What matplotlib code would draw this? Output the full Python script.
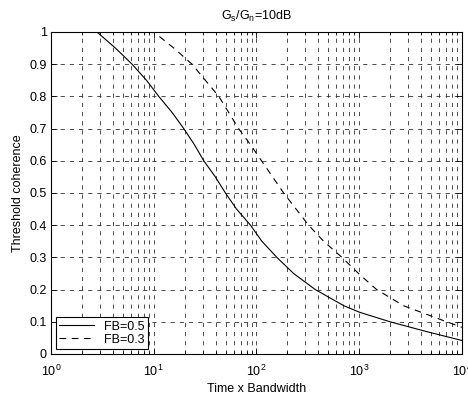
import matplotlib
matplotlib.use("Agg")
import matplotlib.pyplot as plt
from matplotlib.ticker import LogLocator, NullFormatter

plt.rcParams['font.family'] = ['Liberation Sans', 'DejaVu Sans']
plt.rcParams['mathtext.fontset'] = 'custom'
plt.rcParams['mathtext.rm'] = 'Liberation Sans'
plt.rcParams['mathtext.it'] = 'Liberation Sans'
plt.rcParams['mathtext.default'] = 'regular'

# Data
tb_fb05 = [1.0, 2.8, 4.24, 6.15, 8.5, 11.2, 15.1, 19.6, 24.9, 30.7, 39.8, 49.9, 64,
           87.5, 113, 158, 230, 374, 708, 1000, 2000, 4470, 10000]
coh_fb05 = [1.0, 1.0, 0.95, 0.9, 0.85, 0.8, 0.75, 0.7, 0.65, 0.6, 0.55, 0.5, 0.45,
            0.4, 0.35, 0.3, 0.25, 0.2, 0.15, 0.13, 0.1, 0.07, 0.042]

tb_fb03 = [1.0, 10.0, 15.7, 23.6, 31.8, 43, 53.7, 67, 87.5, 112, 184, 322, 451,
           680, 986, 1480, 2700, 7100, 10000]
coh_fb03 = [1.0, 1.0, 0.95, 0.9, 0.85, 0.8, 0.75, 0.7, 0.65, 0.6, 0.5, 0.4, 0.35,
            0.3, 0.25, 0.2, 0.15, 0.1, 0.083]

labels = ['FB=0.5', 'FB=0.3']
title = r'G$_s$/G$_n$=10dB'
xlabel = 'Time x Bandwidth'
ylabel = 'Threshold coherence'
yticks = [0, 0.1, 0.2, 0.3, 0.4, 0.5, 0.6, 0.7, 0.8, 0.9, 1]
ytick_labels = ['0', '0.1', '0.2', '0.3', '0.4', '0.5', '0.6', '0.7', '0.8', '0.9', '1']

fig = plt.figure(figsize=(4.68, 4.03), dpi=100)
ax = fig.add_axes([0.109, 0.1216, 0.878, 0.799])

ax.plot(tb_fb05, coh_fb05, color='black', lw=0.8, label=labels[0])
ax.plot(tb_fb03, coh_fb03, color='black', lw=0.8, linestyle=(0, (6, 5)), label=labels[1])

ax.set_xscale('log')
ax.set_xlim(1, 1e4)
ax.set_ylim(0, 1)
ax.set_yticks(yticks)
ax.set_yticklabels(ytick_labels)
ax.xaxis.set_major_locator(LogLocator(base=10, numticks=10))
ax.xaxis.set_minor_locator(LogLocator(base=10, subs=range(2, 10), numticks=20))
ax.xaxis.set_minor_formatter(NullFormatter())

gridstyle = dict(color='#303030', linewidth=0.6, linestyle=(0, (5, 6)))
ax.grid(True, which='major', axis='both', **gridstyle)
ax.grid(True, which='minor', axis='x', **gridstyle)

ax.tick_params(which='both', direction='in', top=True, right=True, labelsize=9, colors='black')
ax.tick_params(which='major', length=4, width=0.6)
ax.tick_params(which='minor', length=2, width=0.6)
ax.tick_params(axis='x', which='major', pad=7)
ax.tick_params(axis='y', which='major', pad=3)
for s in ax.spines.values():
    s.set_linewidth(0.8)

ax.set_title(title, fontsize=9, pad=9)
ax.set_xlabel(xlabel, fontsize=9, labelpad=3)
ax.set_ylabel(ylabel, fontsize=9, labelpad=4)

leg = ax.legend(loc='lower left', fontsize=9, fancybox=False, framealpha=1,
                edgecolor='black', borderaxespad=0.4, handlelength=2.8,
                borderpad=0.25, labelspacing=0.1, handletextpad=0.8)
leg.get_frame().set_linewidth(0.8)

fig.savefig('out.png', dpi=100)
